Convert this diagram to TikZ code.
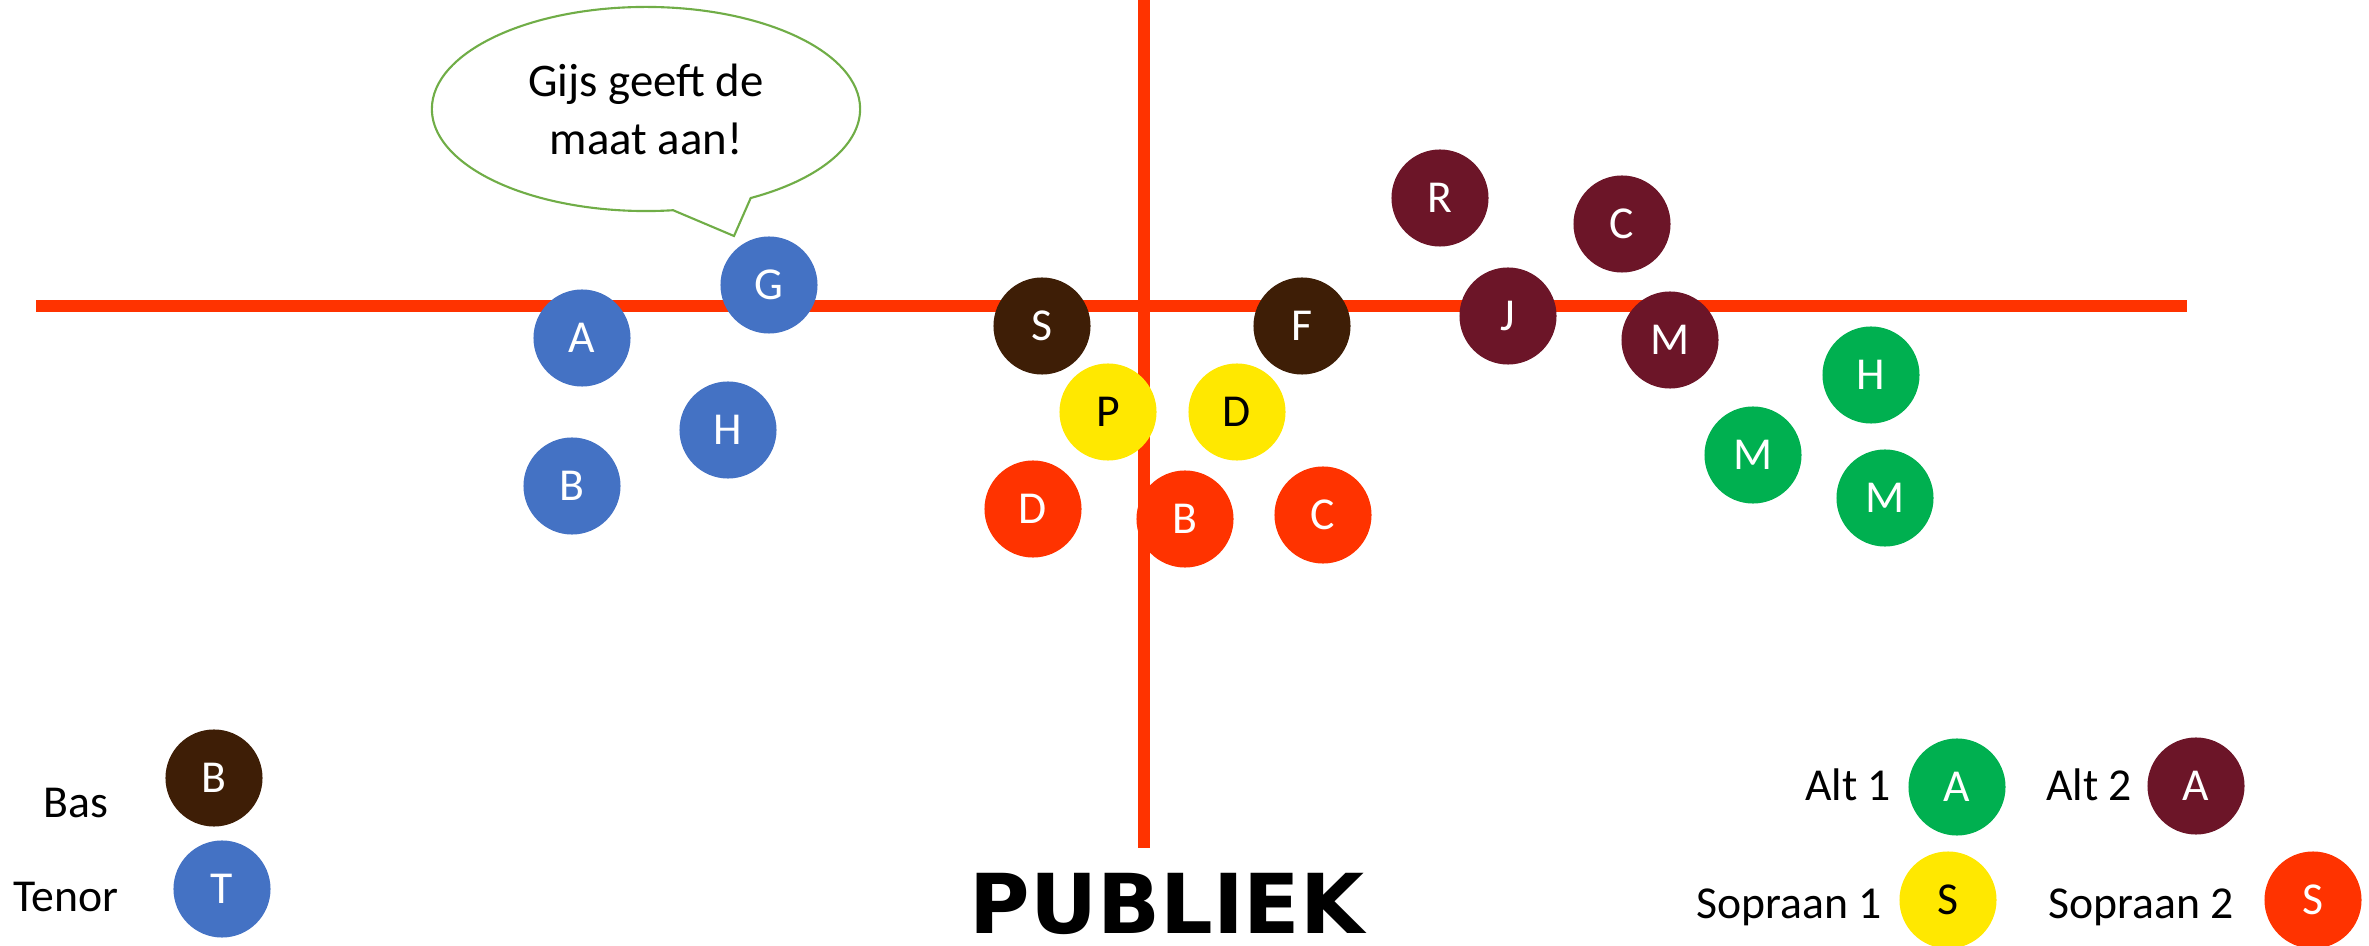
\documentclass[tikz,border=0pt]{standalone}
\usepackage{fontspec}
\setmainfont{Carlito}
\newfontfamily\publiekfont{DejaVu Sans}
\usetikzlibrary{shapes,shapes.callouts,positioning,calc}

\definecolor{tenorblue}{HTML}{4472C4}
\definecolor{basbrown}{HTML}{3E1E06}
\definecolor{sopyellow}{HTML}{FFE800}
\definecolor{sopred}{HTML}{FF3300}
\definecolor{altgreen}{HTML}{00B050}
\definecolor{altmaroon}{HTML}{6C1528}
\definecolor{bubblegreen}{HTML}{70AD47}

\begin{document}
\begin{tikzpicture}[
    x=0.01cm,
    y=-0.01cm,
    singer/.style={
        circle,
        minimum size=0.97cm,
        inner sep=0pt,
        text=white,
        font=\fontsize{13}{15}\selectfont
    },
    tenor/.style={singer, fill=tenorblue},
    bas/.style={singer, fill=basbrown},
    sopraan1/.style={singer, fill=sopyellow, text=black},
    sopraan2/.style={singer, fill=sopred},
    alt1/.style={singer, fill=altgreen},
    alt2/.style={singer, fill=altmaroon},
    legendtext/.style={
        anchor=base,
        inner sep=0pt,
        font=\fontsize{13}{15}\selectfont
    },
    axis/.style={
        draw=sopred,
        line width=0.12cm
    }
]
\useasboundingbox (0,0) rectangle (2369,946);

% Axes
\coordinate (west) at (36,306);
\coordinate (east) at (2187,306);
\coordinate (top) at (1144,0);
\coordinate (bottom) at (1144,848);
\path [axis] (west) -- (east);
\path [axis] (top) -- (bottom);

% Tenor
\node [tenor] (tA) at (582,338) {A};
\node [tenor] (tG) at (769,285) {G};
\node [tenor] (tH) at (728,430) {H};
\node [tenor] (tB) at (572,486) {B};

% Bas
\node [bas] (bS) at (1042,326) {S};
\node [bas] (bF) at (1302,326) {F};

% Sopraan 1
\node [sopraan1] (s1P) at (1108,412) {P};
\node [sopraan1] (s1D) at (1237,412) {D};

% Sopraan 2
\node [sopraan2] (s2D) at (1033,509) {D};
\node [sopraan2] (s2B) at (1185,519) {B};
\node [sopraan2] (s2C) at (1323,515) {C};

% Alt 2
\node [alt2] (a2R) at (1440,198) {R};
\node [alt2] (a2C) at (1622,224) {C};
\node [alt2] (a2J) at (1508,316) {J};
\node [alt2] (a2M) at (1670,340) {M};

% Alt 1
\node [alt1] (a1H) at (1871,375) {H};
\node [alt1] (a1M) at (1753,455) {M};
\node [alt1] (a1Mb) at (1885,498) {M};

% Speech bubble
\coordinate (tip) at (734,236);
\node [
    ellipse callout,
    draw=bubblegreen,
    line width=0.6pt,
    minimum width=4.28cm,
    minimum height=2.04cm,
    inner sep=0pt,
    callout absolute pointer={(tip)},
    callout pointer arc=22,
    align=center,
    font=\fontsize{13.3}{16.5}\selectfont
] (bubble) at (646,109) {Gijs geeft de\\maat aan!};

% Legend
\node [legendtext] (basText) at (76,817) {Bas};
\node [bas] (basKey) at (214,778) {B};
\node [legendtext] (tenorText) at (66,911) {Tenor};
\node [tenor] (tenorKey) at (222,889) {T};

\node [legendtext] (alt1Text) at (1848,800) {Alt 1};
\node [alt1] (alt1Key) at (1957,787) {A};
\node [legendtext] (alt2Text) at (2089,800) {Alt 2};
\node [alt2] (alt2Key) at (2196,786) {A};
\node [legendtext] (sop1Text) at (1789,918) {Sopraan 1};
\node [sopraan1] (sop1Key) at (1948,900) {S};
\node [legendtext] (sop2Text) at (2141,918) {Sopraan 2};
\node [sopraan2] (sop2Key) at (2313,900) {S};

\node [anchor=base, inner sep=0pt, text depth=0pt, font=\publiekfont\bfseries\fontsize{23.5}{28}\selectfont] (publiek) at (1167,933) {PUBLIEK};

\end{tikzpicture}
\end{document}
